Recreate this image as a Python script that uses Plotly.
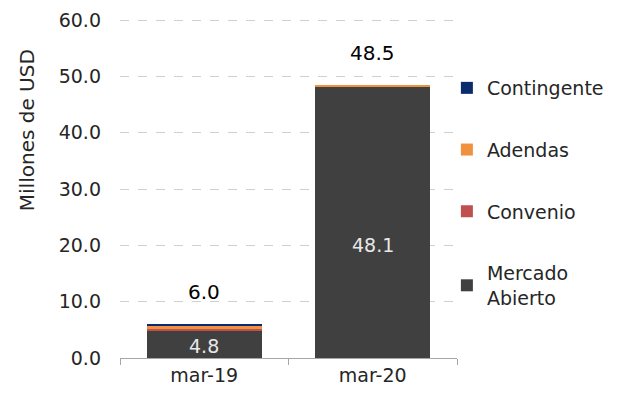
import plotly.graph_objects as go

categories = ["mar-19", "mar-20"]
mercado_abierto = [4.8, 48.1]
convenio = [0.4, 0.0]
adendas = [0.5, 0.4]
contingente = [0.3, 0.0]
totals = [6.0, 48.5]
y_ticks = [0, 10, 20, 30, 40, 50, 60]

FONT = "DejaVu Sans"

fig = go.Figure()
series = [
    ("Mercado<br>Abierto", mercado_abierto, "#404040", 4),
    ("Convenio", convenio, "#c0504d", 3),
    ("Adendas", adendas, "#f0913f", 2),
    ("Contingente", contingente, "#0c2a6e", 1),
]
for i, (name, vals, col, rank) in enumerate(series):
    fig.add_trace(go.Bar(
        x=categories, y=vals, name=name, marker_color=col,
        marker_line_width=0, legendgroup=str(i), legendrank=rank,
        hoverinfo="skip",
    ))

# inside labels for Mercado Abierto
label_pos = [2.2, 20.0]
for c, v, yp in zip(categories, mercado_abierto, label_pos):
    fig.add_annotation(x=c, y=yp, text=f"{v:.1f}", showarrow=False,
                       font=dict(family=FONT, size=19, color="#e8e8e8"))

# totals
for c, t in zip(categories, totals):
    fig.add_annotation(x=c, y=t, text=f"{t:.1f}", showarrow=False,
                       yanchor="bottom", yshift=18,
                       font=dict(family=FONT, size=20, color="#000000"))

fig.add_annotation(xref="paper", yref="paper", x=-0.276, y=0.67,
                   xanchor="center", yanchor="middle",
                   text="Millones de USD", textangle=-90, showarrow=False,
                   font=dict(family=FONT, size=20, color="#262626"))

fig.update_layout(
    width=616, height=392,
    barmode="stack", bargap=0.32,
    paper_bgcolor="white", plot_bgcolor="white",
    margin=dict(l=112, r=167, t=10, b=42, autoexpand=False),
    font=dict(family=FONT, size=19, color="#262626"),
    showlegend=True,
    legend=dict(x=0.97, xanchor="left", y=0.85, yanchor="top",
                traceorder="grouped", tracegroupgap=34,
                font=dict(family=FONT, size=19, color="#262626"),
                bgcolor="rgba(0,0,0,0)", itemclick=False),
)
fig.update_yaxes(range=[0, 60.4], tickvals=y_ticks,
                 ticktext=[f"{v:.1f}" for v in y_ticks],
                 showgrid=True, gridcolor="#d0d0d0", griddash="dash",
                 gridwidth=1, zeroline=False, showline=False,
                 ticks="", ticklabelstandoff=18,
                 tickfont=dict(family=FONT, size=19, color="#262626"))
fig.update_xaxes(showline=True, linecolor="#a6a6a6", linewidth=1,
                 ticks="outside", tickson="boundaries", ticklen=6,
                 tickcolor="#a6a6a6", showgrid=False,
                 tickfont=dict(family=FONT, size=19, color="#262626"))

fig.write_html("out.html")
